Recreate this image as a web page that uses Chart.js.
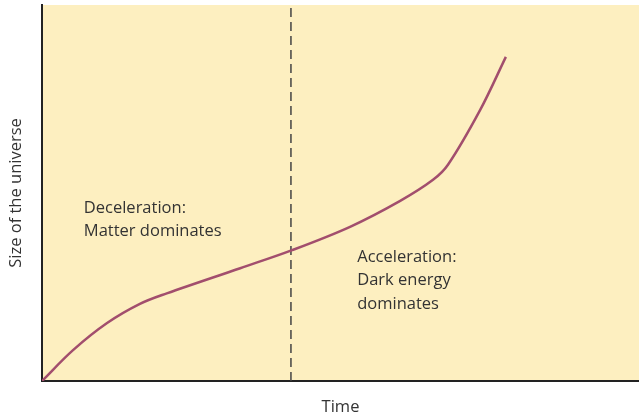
<!DOCTYPE html>
<html>
<head>
<meta charset="utf-8">
<script src="https://cdn.jsdelivr.net/npm/chart.js@4"></script>
<style>
  html, body { margin: 0; padding: 0; background: #fff; }
  #wrap { width: 639px; height: 417px; }
</style>
</head>
<body>
<div id="wrap"><canvas id="chart"></canvas></div>
<script>
// curve (time, size), arbitrary units 0..10
const timeValues = [0, 0.52, 1.09, 1.64, 2.09, 3.32, 4.19, 5.16, 6.00, 6.55, 6.80, 7.34, 7.77];
const sizeValues = [0, 0.82, 1.54, 2.05, 2.33, 3.00, 3.48, 4.10, 4.79, 5.35, 5.75, 7.21, 8.62];
const todayTime = 4.17;

const xTitle = 'Time';
const yTitle = 'Size of the universe';
const notes = [
  { x: 0.7, y: 4.6, lines: ['Deceleration:', 'Matter dominates'] },
  { x: 5.28, y: 3.3, lines: ['Acceleration:', 'Dark energy', 'dominates'] }
];

const FONT = '"Open Sans", Lato, sans-serif';

// plot background + text notes
const paperPlugin = {
  id: 'paper',
  beforeDraw(chart) {
    const { ctx, chartArea: a } = chart;
    ctx.save();
    ctx.fillStyle = '#fdefc0';
    ctx.fillRect(a.left, a.top, a.right - a.left, a.bottom - a.top);
    ctx.restore();
  },
  afterDatasetsDraw(chart) {
    const { ctx, scales } = chart;
    ctx.save();
    ctx.fillStyle = '#333';
    ctx.font = '16.5px ' + FONT;
    ctx.textBaseline = 'middle';
    notes.forEach(n => {
      const px = scales.x.getPixelForValue(n.x);
      const py = scales.y.getPixelForValue(n.y);
      n.lines.forEach((line, i) => ctx.fillText(line, px, py + i * 23.5));
    });
    ctx.restore();
  }
};

new Chart(document.getElementById('chart'), {
  type: 'scatter',
  data: {
    datasets: [
      {
        data: timeValues.map((t, i) => ({ x: t, y: sizeValues[i] })),
        showLine: true,
        borderColor: '#a24e6d',
        borderWidth: 2.5,
        pointRadius: 0,
        tension: 0.35
      },
      {
        data: [{ x: todayTime, y: 0 }, { x: todayTime, y: 10 }],
        showLine: true,
        borderColor: '#444',
        borderWidth: 1.5,
        borderDash: [9, 5],
        pointRadius: 0
      }
    ]
  },
  options: {
    responsive: true,
    maintainAspectRatio: false,
    animation: false,
    layout: { padding: { top: 5, right: 0, left: 0, bottom: 0 } },
    plugins: { legend: { display: false }, tooltip: { enabled: false } },
    scales: {
      x: {
        type: 'linear', min: 0, max: 10,
        grid: { display: false, drawTicks: false },
        border: { color: '#222', width: 2 },
        ticks: { display: false },
        title: { display: true, text: xTitle, color: '#333', font: { family: FONT, size: 16.5 }, padding: { top: 8, bottom: 0 } },
        afterFit(s) { s.height = 36; }
      },
      y: {
        type: 'linear', min: 0, max: 10,
        grid: { display: false, drawTicks: false },
        border: { color: '#222', width: 2 },
        ticks: { display: false },
        title: { display: true, text: yTitle, color: '#333', font: { family: FONT, size: 16.5 }, padding: { top: 6, bottom: 12 } },
        afterFit(s) { s.width = 42; }
      }
    }
  },
  plugins: [paperPlugin]
});
</script>
</body>
</html>
